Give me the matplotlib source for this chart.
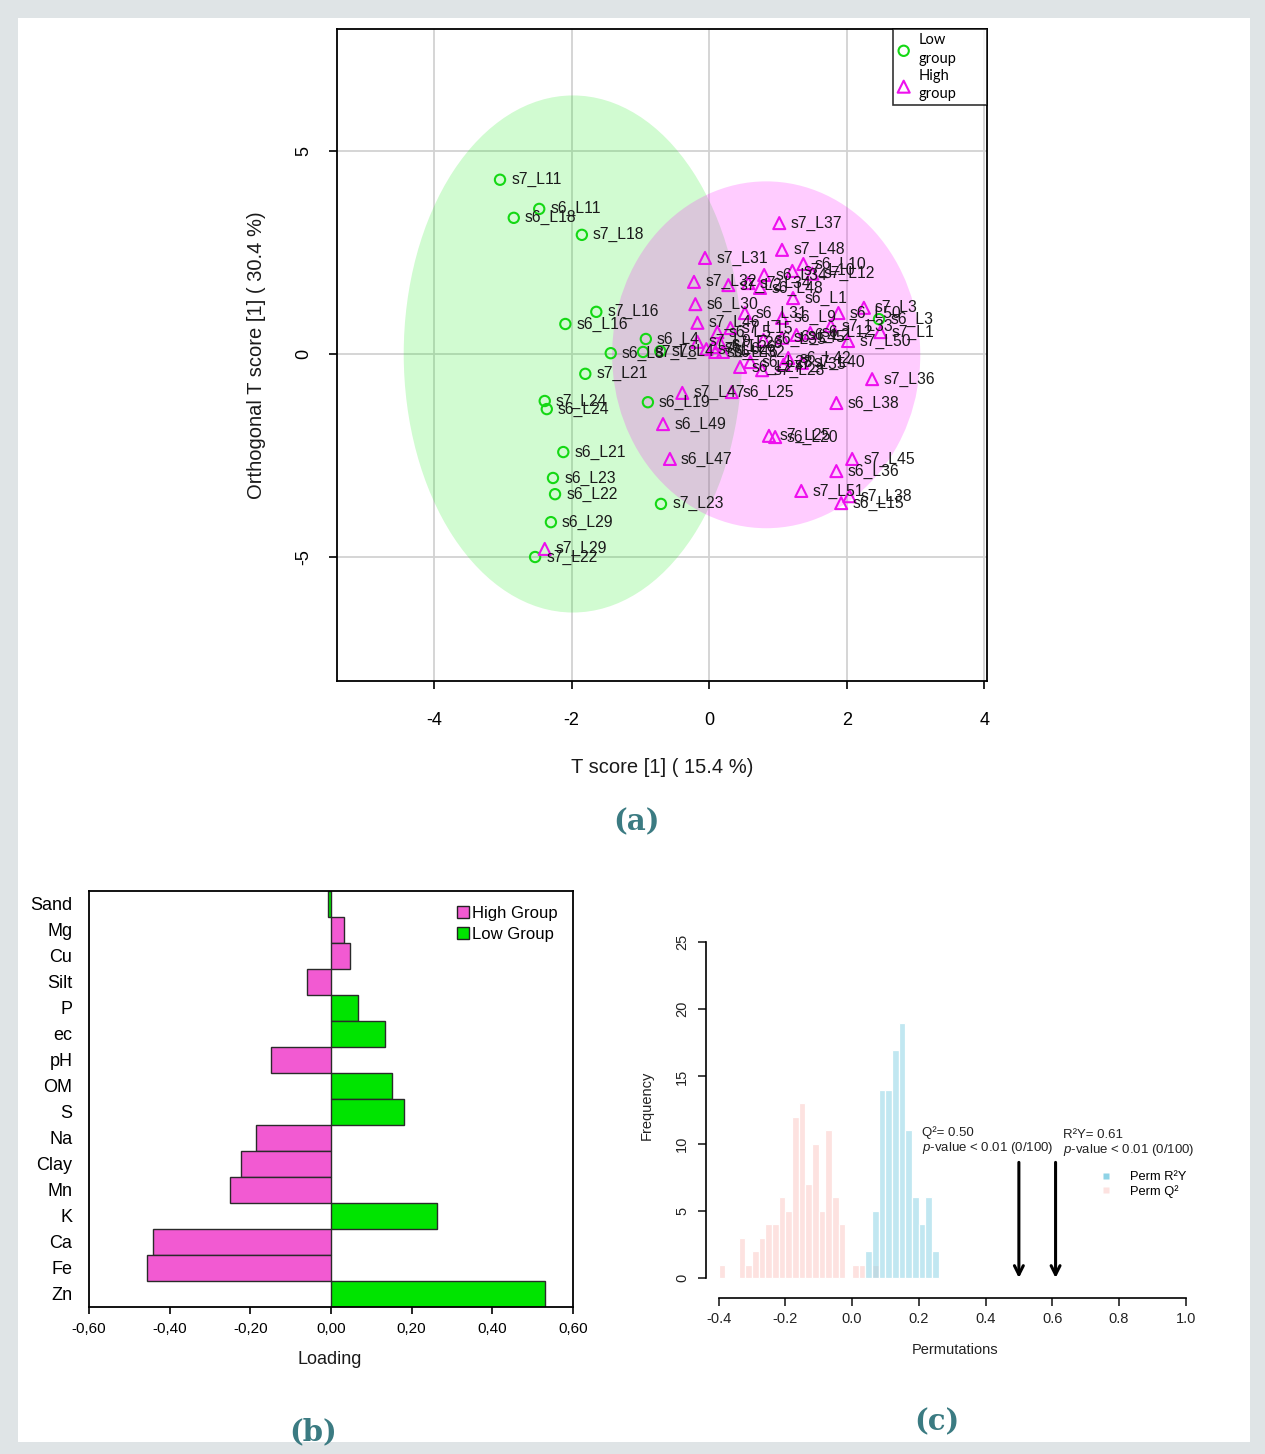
import matplotlib
matplotlib.use("Agg")
import matplotlib.pyplot as plt
from matplotlib.patches import Ellipse, Rectangle, Patch
from matplotlib.lines import Line2D
import numpy as np

plt.rcParams["font.family"] = ["Liberation Sans", "DejaVu Sans"]
plt.rcParams["axes.unicode_minus"] = False
plt.rcParams["mathtext.fontset"] = "custom"
plt.rcParams["mathtext.rm"] = "Liberation Sans"
plt.rcParams["mathtext.it"] = "Liberation Sans:italic"

# ---------------- (a) OPLS-DA score plot ----------------
low_names = ["s7_L11", "s6_L11", "s6_L18", "s7_L18", "s7_L16", "s6_L16", "s6_L4",
             "s6_L8", "s7_L8", "s7_L4", "s7_L21", "s7_L24", "s6_L24", "s6_L19",
             "s6_L21", "s6_L23", "s6_L22", "s6_L29", "s7_L23", "s7_L22", "s6_L3"]
low_t = [-3.04, -2.47, -2.84, -1.85, -1.64, -2.09, -0.92,
         -1.43, -0.96, -0.71, -1.80, -2.39, -2.36, -0.89,
         -2.12, -2.27, -2.24, -2.30, -0.70, -2.53, 2.47]
low_to = [4.30, 3.58, 3.36, 2.94, 1.04, 0.74, 0.37,
          0.02, 0.05, 0.07, -0.49, -1.16, -1.36, -1.19,
          -2.42, -3.06, -3.46, -4.15, -3.70, -5.01, 0.86]

high_names = ["s7_L37", "s7_L48", "s7_L31", "s6_L10", "s7_L10", "s7_L12", "s7_L32",
              "s7_L2", "s7_L34", "s6_L34", "s6_L48", "s6_L1", "s6_L30", "s6_L31",
              "s6_L9", "s6_L50", "s7_L3", "s7_L46", "s7_L33", "s7_L1", "s7_L50",
              "s6_L12", "s6_L2", "s6_L45", "s6_L35", "s6_L5", "s7_L15", "s7_L9",
              "s6_L32", "s6_L26", "s7_L6", "s7_L26", "s6_L46", "s7_L36", "s6_L27",
              "s6_L28", "s7_L28", "s6_L42", "s7_L35", "s7_L40", "s7_L47", "s6_L25",
              "s6_L38", "s6_L49", "s7_L25", "s6_L20", "s7_L45", "s6_L47", "s6_L36",
              "s7_L51", "s7_L38", "s6_L15", "s7_L29"]
high_t = [1.02, 1.06, -0.06, 1.37, 1.21, 1.50, -0.22,
          0.28, 0.57, 0.80, 0.74, 1.22, -0.20, 0.52,
          1.06, 1.88, 2.25, -0.17, 1.77, 2.49, 2.02,
          1.47, 1.27, 1.06, 0.79, 0.12, 0.31, -0.17,
          0.20, 0.06, -0.04, 0.16, 0.09, 2.37, 0.45,
          0.60, 0.77, 1.15, 1.08, 1.35, -0.39, 0.33,
          1.85, -0.67, 0.87, 0.96, 2.08, -0.57, 1.85,
          1.34, 2.04, 1.92, -2.39]
high_to = [3.23, 2.57, 2.37, 2.22, 2.05, 1.98, 1.78,
           1.70, 1.75, 1.95, 1.63, 1.38, 1.23, 1.01,
           0.89, 1.01, 1.14, 0.77, 0.69, 0.54, 0.32,
           0.52, 0.47, 0.40, 0.35, 0.54, 0.64, 0.30,
           0.05, 0.17, 0.12, 0.27, 0.05, -0.62, -0.32,
           -0.20, -0.40, -0.10, -0.27, -0.22, -0.96, -0.94,
           -1.21, -1.73, -2.02, -2.05, -2.59, -2.59, -2.89,
           -3.38, -3.51, -3.68, -4.81]

# confidence ellipses: centre (t, to) and semi-axes
low_ellipse = (-1.98, 0.0, 2.46, 6.38)
high_ellipse = (0.83, -0.02, 2.24, 4.28)

# ---------------- (b) loadings ----------------
soil_vars = ["Sand", "Mg", "Cu", "Silt", "P", "ec", "pH", "OM", "S",
             "Na", "Clay", "Mn", "K", "Ca", "Fe", "Zn"]
loadings = [-0.008, 0.033, 0.046, -0.059, 0.066, 0.133, -0.149, 0.151, 0.181,
            -0.185, -0.222, -0.250, 0.264, -0.441, -0.456, 0.530]
bar_groups = ["Low", "High", "High", "High", "Low", "Low", "High", "Low", "Low",
              "High", "High", "High", "Low", "High", "High", "Low"]
loading_ticks = [-0.6, -0.4, -0.2, 0.0, 0.2, 0.4, 0.6]

# ---------------- (c) permutation test ----------------
bin_width = 0.02
q2_first_bin = -0.40
q2_counts = [1, 0, 0, 3, 1, 2, 3, 4, 4, 6, 5, 12, 13, 7, 10, 5, 11, 6, 4, 0, 1, 1, 0, 1]
r2y_first_bin = 0.04
r2y_counts = [2, 5, 14, 14, 17, 19, 11, 6, 4, 6, 2]
q2_model = 0.50
r2y_model = 0.61

W, H = 1265, 1454
fig = plt.figure(figsize=(W / 100, H / 100), dpi=100, facecolor="#dfe4e6")


def px_rect(x0, y0, x1, y1):
    return [x0 / W, 1 - y1 / H, (x1 - x0) / W, (y1 - y0) / H]


def fx(x):
    return x / W


def fy(y):
    return 1 - y / H


fig.patches.append(Rectangle((fx(18), fy(1442)), (1250 - 18) / W, (1442 - 18) / H,
                             transform=fig.transFigure, facecolor="white",
                             edgecolor="none", zorder=-5))

caption_kw = dict(fontsize=21, fontweight="bold", color="#3b7b82",
                  family=["DejaVu Serif"], ha="center", va="center")

# ======== panel (a) ========
ax = fig.add_axes(px_rect(337, 29, 987, 681))
ax.set_xlim(-5.41, 4.04)
ax.set_ylim(-8.07, 8.02)
ax.set_xticks([-4, -2, 0, 2, 4])
ax.set_yticks([-5, 0, 5])
ax.grid(color="#d2d2d2", lw=1.3)
ax.set_axisbelow(True)
for s in ax.spines.values():
    s.set_linewidth(1.3)

green = "#14d814"
magenta = "#ee10ee"
ax.add_patch(Ellipse((low_ellipse[0], low_ellipse[1]), 2 * low_ellipse[2], 2 * low_ellipse[3],
                     facecolor=(0.1, 0.93, 0.1, 0.2), edgecolor="none", zorder=1))
ax.add_patch(Ellipse((high_ellipse[0], high_ellipse[1]), 2 * high_ellipse[2], 2 * high_ellipse[3],
                     facecolor=(1, 0, 1, 0.2), edgecolor="none", zorder=1))

sc_low = ax.scatter(low_t, low_to, marker="o", s=55, facecolors="none",
                    edgecolors=green, linewidths=1.5, zorder=3, label="Low\ngroup")
sc_high = ax.scatter(high_t, high_to, marker="^", s=75, facecolors="none",
                     edgecolors=magenta, linewidths=1.5, zorder=3, label="High\ngroup")
for n, x, y in zip(low_names, low_t, low_to):
    ax.annotate(n, (x, y), xytext=(8, 0), textcoords="offset points",
                va="center", ha="left", fontsize=11.3, color="#1a1a1a", zorder=4)
for n, x, y in zip(high_names, high_t, high_to):
    ax.annotate(n, (x, y), xytext=(8, 0), textcoords="offset points",
                va="center", ha="left", fontsize=11.3, color="#1a1a1a", zorder=4)

ax.tick_params(axis="x", labelsize=13, length=6, width=1.2, pad=16)
ax.tick_params(axis="y", labelsize=13, length=6, width=1.2, pad=12, labelrotation=90)
for lab in ax.get_yticklabels():
    lab.set_va("center")

# legend box spanning the top-right corner of the score plot
leg = ax.legend(handles=[sc_low, sc_high], loc="upper left", mode="expand",
                bbox_to_anchor=(0.855, 0.8834, 0.145, 0.1166), borderaxespad=0,
                frameon=True, fancybox=False,
                prop={"family": ["Lato", "DejaVu Sans"], "size": 10.5},
                handletextpad=0.5, labelspacing=0.2, borderpad=0.25, handlelength=1.0)
leg.get_frame().set_edgecolor("black")
leg.get_frame().set_linewidth(1.2)
for t in leg.get_texts():
    t.set_linespacing(1.45)

fig.text(fx(662), fy(768), "T score [1] ( 15.4 %)", fontsize=14.5,
         ha="center", va="center", color="#1a1a1a")
fig.text(fx(256), fy(355), "Orthogonal T score [1] ( 30.4 %)", fontsize=14.5,
         ha="center", va="center", rotation=90, color="#1a1a1a")
fig.text(fx(636), fy(822), "(a)", **caption_kw)

# ======== panel (b) ========
axb = fig.add_axes(px_rect(89, 891, 573, 1307))
pink_bar = "#f25ad2"
green_bar = "#00e400"
pos = np.arange(len(soil_vars))
bar_colors = [pink_bar if g == "High" else green_bar for g in bar_groups]
axb.barh(pos, loadings, height=1.0, color=bar_colors, edgecolor="#2a2a2a",
         linewidth=1.0, zorder=2)
axb.set_ylim(len(soil_vars) - 0.5, -0.5)
axb.set_xlim(loading_ticks[0], loading_ticks[-1])
axb.set_yticks(pos)
narrow = ["Liberation Sans Narrow", "Liberation Sans", "DejaVu Sans"]
axb.set_yticklabels(soil_vars, family=narrow, fontsize=13)
axb.set_xticks(loading_ticks)
axb.set_xticklabels([f"{v:.2f}".replace(".", ",") for v in loading_ticks],
                    family=narrow, fontsize=11)
axb.tick_params(axis="y", length=0, pad=12)
axb.tick_params(axis="x", length=5, width=1.2, pad=6)
for s in axb.spines.values():
    s.set_linewidth(1.3)
axb.legend(handles=[Patch(facecolor=pink_bar, edgecolor="#222", label="High Group"),
                    Patch(facecolor=green_bar, edgecolor="#222", label="Low Group")],
           loc="upper right", frameon=False, prop={"family": narrow, "size": 12},
           handlelength=0.7, handleheight=0.75, handletextpad=0.2, labelspacing=0.35,
           borderaxespad=0.5)
fig.text(fx(330), fy(1360), "Loading", family=narrow, fontsize=13,
         ha="center", va="center", color="#1a1a1a")
fig.text(fx(313), fy(1432), "(b)", **caption_kw)

# ======== panel (c) ========
axc = fig.add_axes(px_rect(706, 935, 1200, 1298))
axc.patch.set_alpha(0)
axc.set_xlim(-0.438, 1.043)
axc.set_ylim(-1.49, 25.52)
pink_hist = "#fde2e0"
blue_hist = (0.56, 0.83, 0.90, 0.55)
q2_left = [q2_first_bin + i * bin_width for i in range(len(q2_counts))]
r2y_left = [r2y_first_bin + i * bin_width for i in range(len(r2y_counts))]
axc.bar(q2_left, q2_counts, width=bin_width, align="edge", color=pink_hist,
        edgecolor="white", linewidth=0.9, zorder=2)
axc.bar(r2y_left, r2y_counts, width=bin_width, align="edge", color=blue_hist,
        edgecolor="white", linewidth=0.9, zorder=3)

for v in (q2_model, r2y_model):
    axc.annotate("", xy=(v, 0), xytext=(v, 8.6),
                 arrowprops=dict(arrowstyle="->", lw=2.2, color="black",
                                 mutation_scale=16, shrinkA=0, shrinkB=0), zorder=4)

axc.text(0.21, 10.8, "Q²= 0.50", fontsize=9.5, ha="left", va="center", color="#222")
axc.text(0.21, 9.7, r"$\mathit{p}$-value < 0.01 (0/100)", fontsize=9.5, ha="left",
         va="center", color="#222")
axc.text(0.632, 10.65, "R²Y= 0.61", fontsize=9.5, ha="left", va="center", color="#222")
axc.text(0.632, 9.55, r"$\mathit{p}$-value < 0.01 (0/100)", fontsize=9.5, ha="left",
         va="center", color="#222", clip_on=False)

for side in ("top", "right"):
    axc.spines[side].set_visible(False)
axc.spines["left"].set_bounds(0, 25)
axc.spines["bottom"].set_bounds(-0.4, 1.0)
axc.spines["left"].set_linewidth(1.2)
axc.spines["bottom"].set_linewidth(1.2)
axc.set_xticks([-0.4, -0.2, 0.0, 0.2, 0.4, 0.6, 0.8, 1.0])
axc.set_xticklabels([f"{v:.1f}" for v in [-0.4, -0.2, 0.0, 0.2, 0.4, 0.6, 0.8, 1.0]])
axc.set_yticks([0, 5, 10, 15, 20, 25])
axc.tick_params(axis="x", labelsize=10.5, length=6, width=1.2, pad=4, colors="#222")
axc.tick_params(axis="y", labelsize=10.5, length=6, width=1.2, pad=6,
                labelrotation=90, colors="#222")
for lab in axc.get_yticklabels():
    lab.set_va("center")

axc.legend(handles=[Line2D([], [], ls="none", marker="s", markersize=5,
                           markerfacecolor="#8fd3e6", markeredgecolor="none", label="Perm R²Y"),
                    Line2D([], [], ls="none", marker="s", markersize=5,
                           markerfacecolor="#fde2e0", markeredgecolor="none", label="Perm Q²")],
           loc="upper left", bbox_to_anchor=(fx(1093), fy(1171)),
           bbox_transform=fig.transFigure, frameon=False, fontsize=9.3,
           handletextpad=0.9, labelspacing=0.15, borderaxespad=0, borderpad=0)

fig.text(fx(647), fy(1105), "Frequency", fontsize=10.5, rotation=90,
         ha="center", va="center", color="#222")
fig.text(fx(955), fy(1350), "Permutations", fontsize=10.5,
         ha="center", va="center", color="#222")
fig.text(fx(937), fy(1422), "(c)", **caption_kw)

fig.savefig("out.png", dpi=100, facecolor=fig.get_facecolor())
